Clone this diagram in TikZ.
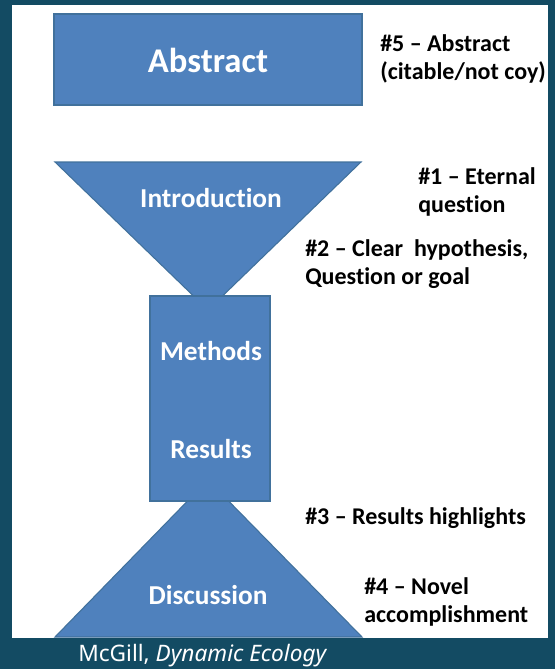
\documentclass[tikz,border=0pt]{standalone}
\usepackage{fontspec}
\setmainfont{Carlito}[Ligatures={TeX,NoCommon}]
\newfontfamily\footfont{Noto Sans}
\definecolor{slideblue}{HTML}{4F81BD}
\definecolor{slideedge}{HTML}{41719C}
\definecolor{frameteal}{HTML}{134B63}

\begin{document}
\begin{tikzpicture}[x=0.75pt, y=-0.75pt,
  part/.style={draw=slideedge, fill=slideblue, line width=0.8pt},
  partlabel/.style={text=white, inner sep=0pt, font=\bfseries\fontsize{20.5}{24}\selectfont},
  note/.style={anchor=west, align=left, inner sep=0pt, font=\bfseries\fontsize{18}{21}\selectfont}]

  % --- Frame ---
  \useasboundingbox (0,0) rectangle (555,669);
  \fill[frameteal] (0,0) rectangle (555,669);
  \fill[white] (12,5) rectangle (548,638);

  % --- Abstract box ---
  \draw[part] (54,14) rectangle (362,105);
  \node[partlabel, font=\bfseries\fontsize{26}{30}\selectfont] (abstract) at (208,60) {Abstract};

  % --- Funnel (triangles behind the body) ---
  \draw[part] (55,162) -- (361,162) -- (208,310) -- cycle;
  \draw[part] (55,637) -- (362,637) -- (208,480) -- cycle;
  \draw[part] (150,296) rectangle (270,501);

  \node[partlabel] (intro) at (211,198) {Introduction};
  \node[partlabel] (methods) at (211,351) {Methods};
  \node[partlabel] (results) at (211,449) {Results};
  \node[partlabel] (discussion) at (208,595) {Discussion};

  % --- Notes ---
  \node[note] (note5) at (380,59) {\#5 -- Abstract\\(citable/not coy)};
  \node[note] (note1) at (418,192) {\#1 -- Eternal\\question};
  \node[note] (note2) at (305,264) {\#2 -- Clear\ \ hypothesis,\\Question or goal};
  \node[note] (note3) at (305,518) {\#3 -- Results highlights};
  \node[note] (note4) at (364,602) {\#4 -- Novel\\accomplishment};

  % --- Source ---
  \node[anchor=west, inner sep=0pt, text=white, font=\footfont\fontsize{17}{20}\selectfont] (source) at (78,656) {McGill, \textit{Dynamic Ecology}};

\end{tikzpicture}
\end{document}
